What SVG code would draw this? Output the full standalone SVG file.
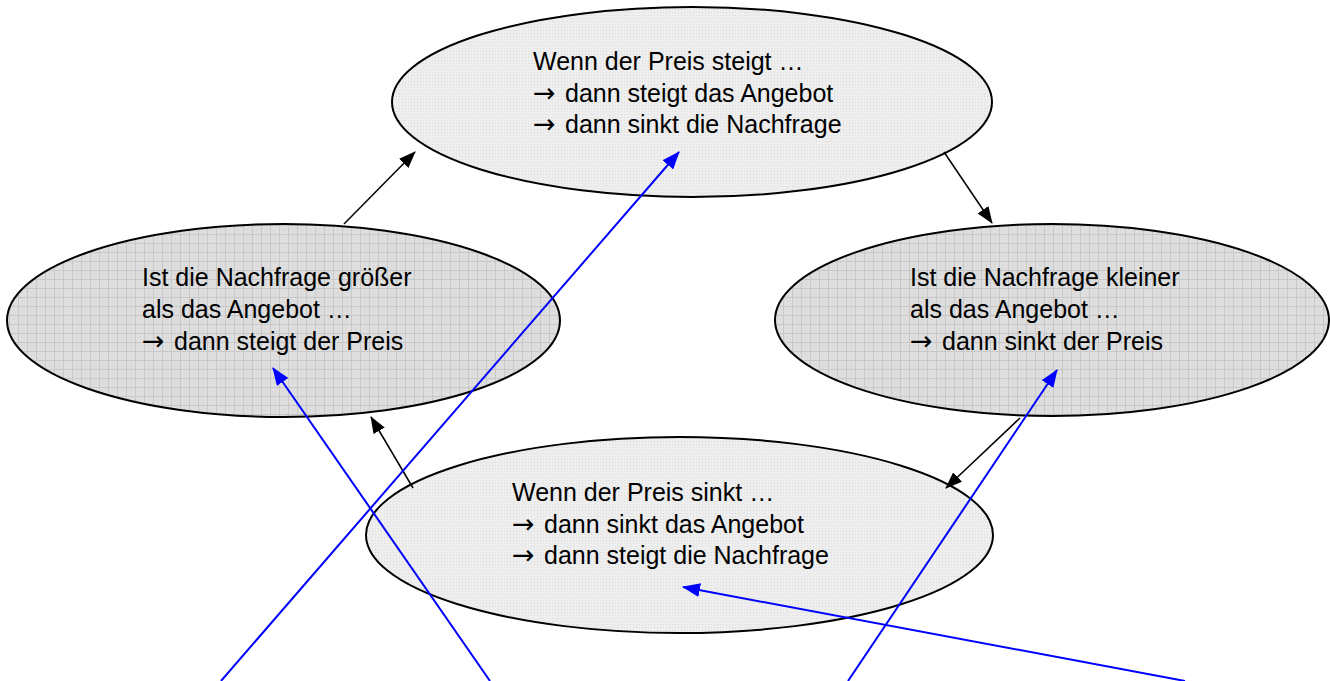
<svg xmlns="http://www.w3.org/2000/svg" width="1330" height="681" viewBox="0 0 1330 681">
<style>
.node{stroke:#000;stroke-width:2}
.t{font-family:"Liberation Sans",Arial,sans-serif;font-size:25px;fill:#000}
.ar{font-family:"DejaVu Sans",sans-serif;font-size:27px}
.k{stroke:#000;stroke-width:1.5;fill:none}
.b{stroke:#0000ff;stroke-width:2;fill:none}
</style>
<defs>
<pattern id="light" width="3" height="3" patternUnits="userSpaceOnUse">
<rect width="3" height="3" fill="#eeeeee"/>
<rect width="1" height="1" fill="#dddddd"/>
</pattern>
<pattern id="grid" width="9" height="9" patternUnits="userSpaceOnUse">
<rect width="9" height="9" fill="#dedede"/>
<rect width="9" height="1" fill="#c8c8c8"/>
<rect width="1" height="9" fill="#c8c8c8"/>
<rect x="4" y="4" width="1" height="1" fill="#cfcfcf"/>
</pattern>
<marker id="ak" markerWidth="17" markerHeight="13" refX="16" refY="6.5" orient="auto" markerUnits="userSpaceOnUse">
<path d="M0,0 L17,6.5 L0,13 Z" fill="#000"/>
</marker>
<marker id="ab" markerWidth="18" markerHeight="14" refX="17" refY="7" orient="auto" markerUnits="userSpaceOnUse">
<path d="M0,0 L18,7 L0,14 Z" fill="#0000ff"/>
</marker>
</defs>
<rect width="1330" height="681" fill="#fff"/>
<g id="n-top">
<ellipse class="node" cx="692" cy="102" rx="300" ry="95" fill="url(#light)"/>
<text class="t" x="533" y="70">Wenn der Preis steigt …</text>
<text class="t" y="102"><tspan class="ar" x="533">→</tspan><tspan x="565">dann steigt das Angebot</tspan></text>
<text class="t" y="133"><tspan class="ar" x="533">→</tspan><tspan x="565">dann sinkt die Nachfrage</tspan></text>
</g>
<g id="n-left">
<ellipse class="node" cx="283.5" cy="320.5" rx="276.5" ry="96.5" fill="url(#grid)"/>
<text class="t" x="142" y="286">Ist die Nachfrage größer</text>
<text class="t" x="142" y="318">als das Angebot …</text>
<text class="t" y="350"><tspan class="ar" x="142">→</tspan><tspan x="174">dann steigt der Preis</tspan></text>
</g>
<g id="n-right">
<ellipse class="node" cx="1052" cy="320" rx="277" ry="96" fill="url(#grid)"/>
<text class="t" x="910" y="286">Ist die Nachfrage kleiner</text>
<text class="t" x="910" y="318">als das Angebot …</text>
<text class="t" y="350"><tspan class="ar" x="910">→</tspan><tspan x="942">dann sinkt der Preis</tspan></text>
</g>
<g id="n-bottom">
<ellipse class="node" cx="679.5" cy="535" rx="313.5" ry="98" fill="url(#light)"/>
<text class="t" x="512" y="501">Wenn der Preis sinkt …</text>
<text class="t" y="533"><tspan class="ar" x="512">→</tspan><tspan x="544">dann sinkt das Angebot</tspan></text>
<text class="t" y="564"><tspan class="ar" x="512">→</tspan><tspan x="544">dann steigt die Nachfrage</tspan></text>
</g>
<g id="connectors">
<line class="k" x1="344" y1="224" x2="415" y2="152" marker-end="url(#ak)"/>
<line class="k" x1="944" y1="152" x2="992" y2="223" marker-end="url(#ak)"/>
<line class="k" x1="1020" y1="418" x2="946" y2="488" marker-end="url(#ak)"/>
<line class="k" x1="413" y1="488" x2="371" y2="417" marker-end="url(#ak)"/>
<line class="b" x1="221" y1="681" x2="679" y2="152" marker-end="url(#ab)"/>
<line class="b" x1="490" y1="681" x2="273" y2="368" marker-end="url(#ab)"/>
<line class="b" x1="848" y1="681" x2="1057" y2="370" marker-end="url(#ab)"/>
<line class="b" x1="1185" y1="681" x2="683" y2="587" marker-end="url(#ab)"/>
</g>
</svg>
